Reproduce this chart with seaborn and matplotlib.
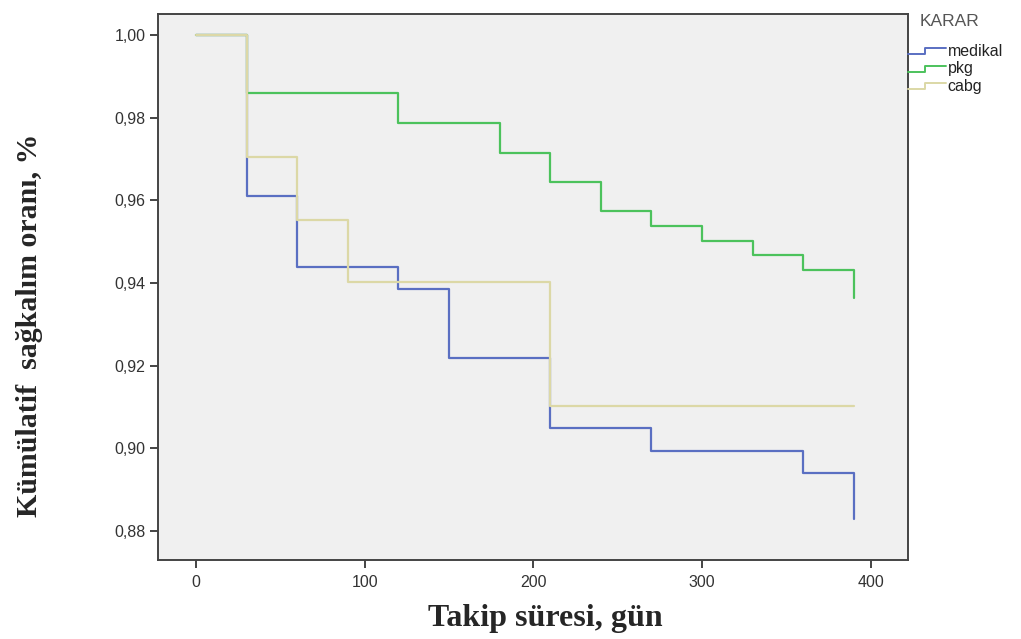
import pandas as pd
import matplotlib
matplotlib.use('Agg')
import matplotlib.pyplot as plt
import seaborn as sns
from matplotlib.lines import Line2D
from matplotlib.legend_handler import HandlerLine2D
from matplotlib.ticker import FuncFormatter

# Kaplan-Meier adım verileri
gun_medikal = [0, 30, 60, 120, 150, 210, 270, 360, 390]
sag_medikal = [1.000, 0.961, 0.944, 0.9385, 0.922, 0.905, 0.8993, 0.894, 0.883]

gun_pkg = [0, 30, 120, 180, 210, 240, 270, 300, 330, 360, 390]
sag_pkg = [1.000, 0.986, 0.9788, 0.9716, 0.9645, 0.9574, 0.9539, 0.9503, 0.9468, 0.9431, 0.9364]

gun_cabg = [0, 30, 60, 90, 210, 390]
sag_cabg = [1.000, 0.9704, 0.9552, 0.9403, 0.9103, 0.9103]

gruplar = ['medikal', 'pkg', 'cabg']
renkler = {'medikal': '#5a6fc2', 'pkg': '#4cc25c', 'cabg': '#dcd8a6'}

df = pd.concat([
    pd.DataFrame({'gun': gun_medikal, 'sagkalim': sag_medikal, 'karar': 'medikal'}),
    pd.DataFrame({'gun': gun_pkg, 'sagkalim': sag_pkg, 'karar': 'pkg'}),
    pd.DataFrame({'gun': gun_cabg, 'sagkalim': sag_cabg, 'karar': 'cabg'}),
], ignore_index=True)

sns.set_style('white')
plt.rcParams['font.family'] = ['Liberation Sans', 'DejaVu Sans']

fig = plt.figure(figsize=(10.21, 6.39), dpi=100)
ax = fig.add_axes([0.1548, 0.1236, 0.7344, 0.8544])
ax.set_facecolor('#f0f0f0')

# cabg en son çizilsin (üstte görünsün)
sns.lineplot(data=df, x='gun', y='sagkalim', hue='karar', hue_order=['medikal', 'pkg', 'cabg'],
             palette=renkler, drawstyle='steps-post', estimator=None, sort=False,
             linewidth=1.6, legend=False, ax=ax)

ax.set_xlim(-22.5, 422)
ax.set_ylim(0.873, 1.0051)
ax.set_xticks([0, 100, 200, 300, 400])
ax.set_yticks([0.88, 0.90, 0.92, 0.94, 0.96, 0.98, 1.00])
ax.yaxis.set_major_formatter(FuncFormatter(lambda v, p: f'{v:.2f}'.replace('.', ',')))
ax.tick_params(axis='both', direction='out', length=6, width=1.4, color='#444444',
               labelsize=11.5, labelcolor='#333333', left=True, bottom=True)
ax.tick_params(axis='y', pad=3)
ax.tick_params(axis='x', pad=5)
for s in ax.spines.values():
    s.set_color('#444444')
    s.set_linewidth(1.4)

ax.set_xlabel('Takip süresi, gün', fontsize=23, fontweight='bold', family='Liberation Serif')
ax.set_ylabel('Kümülatif  sağkalım oranı, %', fontsize=21.5, fontweight='bold', family='Liberation Serif')
ax.xaxis.set_label_coords(0.516, -0.08)
ax.yaxis.set_label_coords(-0.153, 0.43)


# Lejantta basamak şeklinde çizgi
class BasamakHandler(HandlerLine2D):
    def create_artists(self, legend, orig_handle, xdescent, ydescent, width, height, fontsize, trans):
        x0 = -xdescent
        y_alt = -ydescent + height * 0.15
        y_ust = -ydescent + height * 0.7
        xs = [x0, x0 + width * 0.45, x0 + width * 0.45, x0 + width]
        ys = [y_alt, y_alt, y_ust, y_ust]
        cizgi = Line2D(xs, ys, color=orig_handle.get_color(), linewidth=1.4)
        cizgi.set_transform(trans)
        return [cizgi]


# Lejant başlığı
fig.text(920 / 1021, 1 - 22 / 639, 'KARAR', fontsize=12.5, color='#555555', ha='left', va='center')

tutamaklar = [Line2D([], [], color=renkler[g]) for g in gruplar]
leg = fig.legend(tutamaklar, gruplar, loc='upper left',
                 bbox_to_anchor=(0.889, 1 - 44 / 639), frameon=False, fontsize=11.5,
                 handlelength=2.4, handletextpad=0.1, labelspacing=0.15,
                 borderpad=0, borderaxespad=0,
                 handler_map={Line2D: BasamakHandler()})
for t in leg.get_texts():
    t.set_color('#222222')

fig.savefig('out.png', dpi=100)
